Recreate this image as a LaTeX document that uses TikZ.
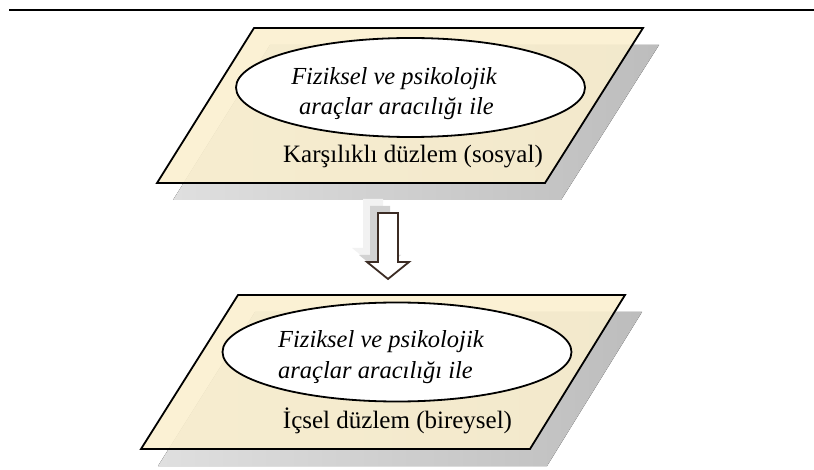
\documentclass[tikz,border=0pt]{standalone}
\usepackage{fontspec}
\setmainfont{Liberation Serif}
\usetikzlibrary{shapes.geometric}
\definecolor{plane}{RGB}{250,239,206}
\definecolor{arrowedge}{RGB}{60,44,36}
\begin{document}
\begin{tikzpicture}[x=1pt,y=-1pt,
  planeface/.style={draw=black,line width=1.8pt,fill=plane,fill opacity=0.88,line join=miter},
  planeshadow/.style={left color=gray!25,right color=gray!52},
  oval/.style={ellipse,draw=black,line width=1.8pt,fill=white,inner sep=0pt,
    minimum width=349pt,minimum height=99pt},
  lbl/.style={font=\fontsize{25}{30}\selectfont,inner sep=0pt},
  itlbl/.style={font=\fontsize{24.5}{30}\selectfont\itshape,inner sep=0pt},
  blockarrow/.style={draw=arrowedge,line width=1.8pt,fill=white,line join=miter},
]
\useasboundingbox (0,0) rectangle (814,470);

% rule across the top
\draw[line width=2pt] (9,10) -- (814,10);

% upper plane (social)
\fill[planeshadow] (270,45) -- (659,45) -- (561,200) -- (173,200) -- cycle;
\draw[planeface] (254,28) -- (643,28) -- (545,183) -- (157,183) -- cycle;
\node[oval] (e1) at (410.5,87.5) {};
\node[itlbl,anchor=base] (t1a) at (394,85) {Fiziksel ve psikolojik};
\node[itlbl,anchor=base] (t1b) at (396.5,115) {araçlar aracılığı ile};
\node[lbl,anchor=base] (p1) at (413,163) {Karşılıklı düzlem (sosyal)};

% block arrow with its fading shadow
\fill[gray!10] (363,199) -- (383,199) -- (383,248) -- (394,248) -- (373,265) -- (352,248) -- (363,248) -- cycle;
\fill[gray!35] (370,206) -- (390,206) -- (390,255) -- (401,255) -- (380,272) -- (359,255) -- (370,255) -- cycle;
\draw[blockarrow] (378,213) -- (398,213) -- (398,262) -- (409,262) -- (388,279) -- (367,262) -- (378,262) -- cycle;

% lower plane (individual)
\fill[planeshadow] (255,312) -- (642,312) -- (547,466) -- (158,466) -- cycle;
\draw[planeface] (238,295) -- (625,295) -- (530,449) -- (141,449) -- cycle;
\node[oval] (e2) at (397,352) {};
\node[itlbl,anchor=base west] (t2a) at (278,348) {Fiziksel ve psikolojik};
\node[itlbl,anchor=base west] (t2b) at (278,378) {araçlar aracılığı ile};
\node[lbl,anchor=base] (p2) at (397.5,428) {İçsel düzlem (bireysel)};
\end{tikzpicture}
\end{document}
